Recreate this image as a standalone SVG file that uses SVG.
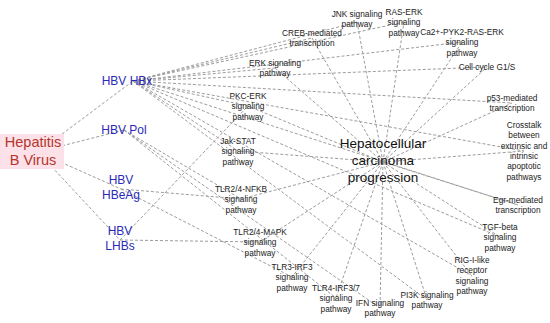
<svg xmlns="http://www.w3.org/2000/svg" width="550" height="323" viewBox="0 0 550 323">
<style>
.e{stroke:#9c9c9c;stroke-width:1;stroke-dasharray:3 2;fill:none}
text{font-family:"Liberation Sans",Arial,sans-serif;text-anchor:middle}
.pw{font-size:8.3px;fill:#222}
.pr{font-size:12px;fill:#2a2ab8}
.hbv{font-size:14.5px;fill:#b3362c}
.hcc{font-size:13.5px;fill:#111}
</style>
<rect width="550" height="323" fill="#fff"/>
<g id="edges">
<line class="e" x1="38" y1="152" x2="133" y2="81"/>
<line class="e" x1="38" y1="152" x2="124" y2="130"/>
<line class="e" x1="38" y1="152" x2="121" y2="189"/>
<line class="e" x1="38" y1="152" x2="120" y2="240"/>
<line class="e" x1="133" y1="81" x2="357" y2="22"/>
<line class="e" x1="133" y1="81" x2="404" y2="22"/>
<line class="e" x1="133" y1="81" x2="312" y2="38"/>
<line class="e" x1="133" y1="81" x2="462" y2="42"/>
<line class="e" x1="133" y1="81" x2="275" y2="68"/>
<line class="e" x1="133" y1="81" x2="487" y2="67"/>
<line class="e" x1="133" y1="81" x2="512" y2="103"/>
<line class="e" x1="133" y1="81" x2="248" y2="106"/>
<line class="e" x1="133" y1="81" x2="524" y2="151"/>
<line class="e" x1="133" y1="81" x2="518" y2="205"/>
<line class="e" x1="133" y1="81" x2="238" y2="151"/>
<line class="e" x1="133" y1="81" x2="500" y2="237"/>
<line class="e" x1="133" y1="81" x2="472" y2="276"/>
<line class="e" x1="133" y1="81" x2="427" y2="300"/>
<line class="e" x1="124" y1="130" x2="241" y2="199"/>
<line class="e" x1="124" y1="130" x2="336" y2="298"/>
<line class="e" x1="124" y1="130" x2="380" y2="308"/>
<line class="e" x1="121" y1="189" x2="241" y2="199"/>
<line class="e" x1="121" y1="189" x2="292" y2="277"/>
<line class="e" x1="120" y1="240" x2="248" y2="106"/>
<line class="e" x1="120" y1="240" x2="260" y2="242"/>
<line class="e" x1="383" y1="162" x2="357" y2="22"/>
<line class="e" x1="383" y1="162" x2="404" y2="22"/>
<line class="e" x1="383" y1="162" x2="312" y2="38"/>
<line class="e" x1="383" y1="162" x2="462" y2="42"/>
<line class="e" x1="383" y1="162" x2="275" y2="68"/>
<line class="e" x1="383" y1="162" x2="487" y2="67"/>
<line class="e" x1="383" y1="162" x2="512" y2="103"/>
<line class="e" x1="383" y1="162" x2="248" y2="106"/>
<line class="e" x1="383" y1="162" x2="524" y2="151"/>
<line class="e" x1="383" y1="162" x2="518" y2="205"/>
<line class="e" x1="383" y1="162" x2="238" y2="151"/>
<line class="e" x1="383" y1="162" x2="500" y2="237"/>
<line class="e" x1="383" y1="162" x2="472" y2="276"/>
<line class="e" x1="383" y1="162" x2="427" y2="300"/>
<line class="e" x1="383" y1="162" x2="380" y2="308"/>
<line class="e" x1="383" y1="162" x2="336" y2="298"/>
<line class="e" x1="383" y1="162" x2="292" y2="277"/>
<line class="e" x1="383" y1="162" x2="260" y2="242"/>
<line class="e" x1="383" y1="162" x2="241" y2="199"/>
</g>
<g id="hbv"><rect x="0" y="134" width="64" height="35" fill="#fde1e8"/>
<text class="hbv" x="33" y="147">Hepatitis</text><text class="hbv" x="33" y="165">B Virus</text></g>
<g id="hbx"><text class="pr" x="127" y="85">HBV HBx</text></g>
<g id="pol"><text class="pr" x="124" y="134">HBV Pol</text></g>
<g id="hbeag"><text class="pr" x="121" y="184">HBV</text><text class="pr" x="121" y="199">HBeAg</text></g>
<g id="lhbs"><text class="pr" x="120" y="235">HBV</text><text class="pr" x="120" y="250">LHBs</text></g>
<g id="hcc"><text class="hcc" x="383" y="148">Hepatocellular</text><text class="hcc" x="383" y="165">carcinoma</text><text class="hcc" x="383" y="182">progression</text></g>
<g id="jnk"><text class="pw" x="357" y="17">JNK signaling<tspan x="357" dy="10.3">pathway</tspan></text></g>
<g id="raserk"><text class="pw" x="404" y="15">RAS-ERK<tspan x="404" dy="10.3">signaling</tspan><tspan x="404" dy="10.3">pathway</tspan></text></g>
<g id="creb"><text class="pw" x="312" y="36">CREB-mediated<tspan x="312" dy="10.3">transcription</tspan></text></g>
<g id="ca"><text class="pw" x="462" y="35">Ca2+-PYK2-RAS-ERK<tspan x="462" dy="10.3">signaling</tspan><tspan x="462" dy="10.3">pathway</tspan></text></g>
<g id="erk"><text class="pw" x="275" y="66">ERK signaling<tspan x="275" dy="10.3">pathway</tspan></text></g>
<g id="cell"><text class="pw" x="487" y="70">Cell cycle G1/S</text></g>
<g id="p53"><text class="pw" x="512" y="101">p53-mediated<tspan x="512" dy="10.3">transcription</tspan></text></g>
<g id="pkc"><text class="pw" x="248" y="99">PKC-ERK<tspan x="248" dy="10.3">signaling</tspan><tspan x="248" dy="10.3">pathway</tspan></text></g>
<g id="cross"><text class="pw" x="524" y="128">Crosstalk<tspan x="524" dy="10.3">between</tspan><tspan x="524" dy="10.3">extrinsic and</tspan><tspan x="524" dy="10.3">intrinsic</tspan><tspan x="524" dy="10.3">apoptotic</tspan><tspan x="524" dy="10.3">pathways</tspan></text></g>
<g id="egr"><text class="pw" x="518" y="203">Egr-mediated<tspan x="518" dy="10.3">transcription</tspan></text></g>
<g id="tgf"><text class="pw" x="500" y="230">TGF-beta<tspan x="500" dy="10.3">signaling</tspan><tspan x="500" dy="10.3">pathway</tspan></text></g>
<g id="rig"><text class="pw" x="472" y="263">RIG-I-like<tspan x="472" dy="10.3">receptor</tspan><tspan x="472" dy="10.3">signaling</tspan><tspan x="472" dy="10.3">pathway</tspan></text></g>
<g id="pi3k"><text class="pw" x="427" y="298">PI3K signaling<tspan x="427" dy="10.3">pathway</tspan></text></g>
<g id="ifn"><text class="pw" x="380" y="306">IFN signaling<tspan x="380" dy="10.3">pathway</tspan></text></g>
<g id="tlr4"><text class="pw" x="336" y="291">TLR4-IRF3/7<tspan x="336" dy="10.3">signaling</tspan><tspan x="336" dy="10.3">pathway</tspan></text></g>
<g id="tlr3"><text class="pw" x="292" y="270">TLR3-IRF3<tspan x="292" dy="10.3">signaling</tspan><tspan x="292" dy="10.3">pathway</tspan></text></g>
<g id="mapk"><text class="pw" x="260" y="235">TLR2/4-MAPK<tspan x="260" dy="10.3">signaling</tspan><tspan x="260" dy="10.3">pathway</tspan></text></g>
<g id="nfkb"><text class="pw" x="241" y="192">TLR2/4-NFKB<tspan x="241" dy="10.3">signaling</tspan><tspan x="241" dy="10.3">pathway</tspan></text></g>
<g id="jak"><text class="pw" x="238" y="144">Jak-STAT<tspan x="238" dy="10.3">signaling</tspan><tspan x="238" dy="10.3">pathway</tspan></text></g>
</svg>
